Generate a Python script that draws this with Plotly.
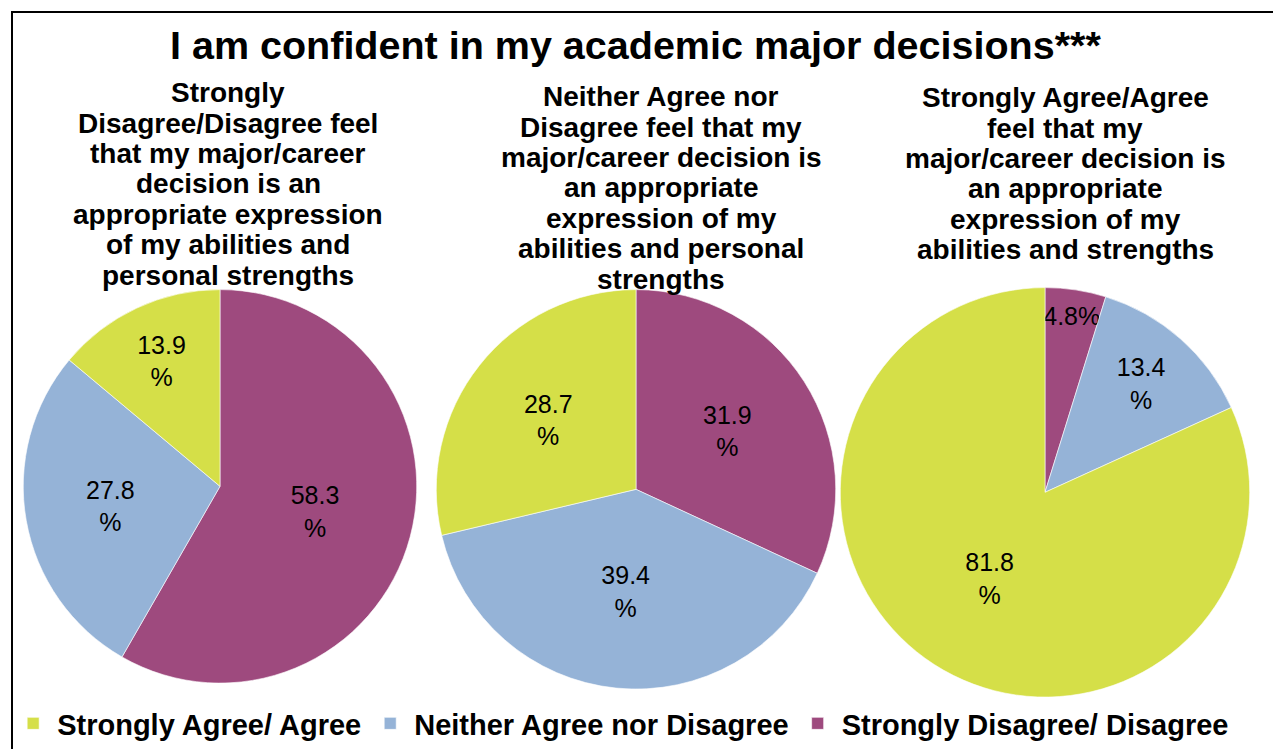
import plotly.graph_objects as go

# ---- data ----
categories = ["Strongly Disagree/ Disagree", "Neither Agree nor Disagree", "Strongly Agree/ Agree"]
colors = ["#9E4A7E", "#95B3D7", "#D5DF48"]
pie_disagree = [58.3, 27.8, 13.9]
pie_neither = [31.9, 39.4, 28.7]
pie_agree = [4.8, 13.4, 81.8]
title_text = "I am confident in my academic major decisions***"
subtitle_disagree = ["Strongly", "Disagree/Disagree feel", "that my major/career", "decision is an",
                     "appropriate expression", "of my abilities and", "personal strengths"]
subtitle_neither = ["Neither Agree nor", "Disagree feel that my", "major/career decision is",
                    "an appropriate", "expression of my", "abilities and personal", "strengths"]
subtitle_agree = ["Strongly Agree/Agree", "feel that my", "major/career decision is",
                  "an appropriate", "expression of my", "abilities and strengths"]

W, H = 1273, 749
FONT = "Liberation Sans, Arial, sans-serif"

# pixel boxes (x0, y0, x1, y1) for each pie
pie_boxes = [(23, 290, 417, 684), (436, 290, 836, 690), (840, 288, 1250, 698)]
sub_centers = [(228, 93), (661, 97), (1065, 98)]
sub_spacing = 30.4

fig = go.Figure()
for i, (vals, box) in enumerate(zip([pie_disagree, pie_neither, pie_agree], pie_boxes)):
    x0, y0, x1, y1 = box
    tt = ["%{value}%" if v < 10 else "%{value}<br>%" for v in vals]
    fig.add_trace(go.Pie(
        labels=categories, values=vals, sort=False, direction="clockwise", rotation=0,
        marker=dict(colors=colors, line=dict(color="white", width=0.6)),
        texttemplate=tt, textinfo="text", textposition="inside",
        insidetextorientation="horizontal",
        textfont=dict(family=FONT, size=25, color="black"),
        domain=dict(x=[x0 / W, x1 / W], y=[1 - y1 / H, 1 - y0 / H]),
        showlegend=(i == 0), hoverinfo="label+value",
    ))

annotations = [dict(text=title_text, x=635 / W, y=1 - 45 / H, xref="paper", yref="paper",
                    xanchor="center", yanchor="middle", showarrow=False,
                    font=dict(family=FONT, size=39.5, color="black", weight="bold"))]
for lines, (cx, cy) in zip([subtitle_disagree, subtitle_neither, subtitle_agree], sub_centers):
    for k, line in enumerate(lines):
        annotations.append(dict(text=line, x=cx / W, y=1 - (cy + k * sub_spacing) / H,
                                xref="paper", yref="paper", xanchor="center", yanchor="middle",
                                showarrow=False,
                                font=dict(family=FONT, size=28, color="black", weight="bold")))

fig.update_layout(
    width=W, height=H,
    margin=dict(l=0, r=0, t=0, b=0),
    paper_bgcolor="white", plot_bgcolor="white",
    annotations=annotations,
    uniformtext=dict(minsize=25, mode="show"),
    legend=dict(orientation="h", x=0.0072, xanchor="left", y=1 - 724 / H, yanchor="middle",
                font=dict(family=FONT, size=29, color="black", weight="bold"),
                itemwidth=38, traceorder="reversed", bgcolor="rgba(0,0,0,0)"),
    shapes=[dict(type="rect", xref="paper", yref="paper", x0=12 / W, y0=1 - 12 / H,
                 x1=1 + 10 / W, y1=-10 / H, line=dict(color="black", width=2))],
)

fig.write_html("out.html", config={"displayModeBar": False},
               post_script="document.body.style.margin='0';"
                           "document.documentElement.style.overflow='hidden';"
                           "document.body.style.overflow='hidden';")
